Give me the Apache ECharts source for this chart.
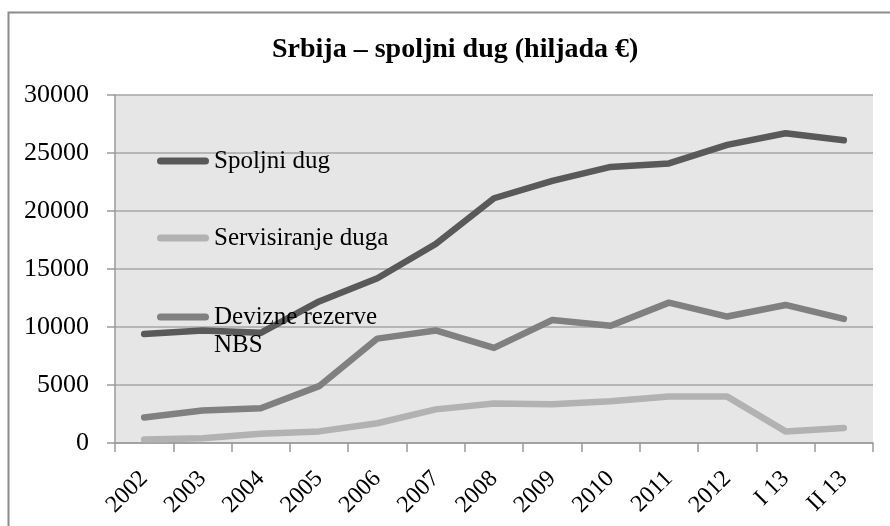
<!DOCTYPE html>
<html>
<head>
<meta charset="utf-8">
<script src="https://cdn.jsdelivr.net/npm/echarts@6/dist/echarts.min.js"></script>
<style>html,body{margin:0;padding:0;background:#fff;}#c{width:890px;height:526px;}</style>
</head>
<body>
<div id="c"></div>
<script>
const categories = ['2002','2003','2004','2005','2006','2007','2008','2009','2010','2011','2012','I 13','II 13'];
const spoljniDug = [9400, 9700, 9500, 12200, 14200, 17150, 21100, 22600, 23800, 24100, 25700, 26700, 26100];
const servisiranjeDuga = [300, 400, 800, 1000, 1700, 2900, 3400, 3350, 3600, 4000, 4000, 1000, 1300];
const deviznaRezerve = [2200, 2800, 3000, 4900, 9000, 9700, 8200, 10600, 10100, 12100, 10900, 11900, 10700];
const yTicks = [0, 5000, 10000, 15000, 20000, 25000, 30000];

const FONT = '"Liberation Serif", "DejaVu Serif", serif';
const capsule = 'path://M3.5,0 H48.5 A3.5,3.5 0 0 1 48.5,7 H3.5 A3.5,3.5 0 0 1 3.5,0 Z';

function legendFor(name, top, color, extra) {
  return Object.assign({
    data: [{ name: name, icon: capsule, itemStyle: { color: color } }],
    left: 157, top: top, orient: 'vertical', padding: 0,
    itemWidth: 52, itemHeight: 7, selectedMode: false,
    textStyle: { fontFamily: FONT, fontSize: 25, color: '#000', lineHeight: 28 }
  }, extra || {});
}

const chart = echarts.init(document.getElementById('c'));
chart.setOption({
  animation: false,
  backgroundColor: '#fff',
  title: {
    text: 'Srbija – spoljni dug (hiljada €)',
    left: 267, top: 31,
    textStyle: { fontFamily: FONT, fontSize: 28, fontWeight: 'bold', color: '#000' }
  },
  graphic: [{
    type: 'rect', left: 6, top: 10, z: -1, silent: true,
    shape: { width: 900, height: 540 },
    style: { fill: 'none', stroke: '#8c8c8c', lineWidth: 2 }
  }],
  legend: [
    legendFor('Spoljni dug', 147, '#595959'),
    legendFor('Servisiranje duga', 224, '#b2b2b2'),
    legendFor('Devizne rezerve NBS', 275, '#808080', {
      formatter: function () { return ' \nDevizne rezerve\nNBS'; }
    })
  ],
  grid: { left: 115, right: 17, top: 95, bottom: 83, show: true, backgroundColor: '#e6e6e6', borderWidth: 0, outerBoundsMode: 'none' },
  xAxis: {
    type: 'category', data: categories, boundaryGap: true,
    axisLine: { lineStyle: { color: '#9a9a9a', width: 1.5 } },
    axisTick: { show: true, length: 9, alignWithLabel: false, lineStyle: { color: '#9a9a9a', width: 1.5 } },
    axisLabel: { rotate: 45, margin: 32, fontFamily: FONT, fontSize: 24, color: '#000', interval: 0 }
  },
  yAxis: {
    type: 'value', min: yTicks[0], max: yTicks[yTicks.length - 1], interval: 5000,
    axisLine: { show: true, lineStyle: { color: '#9a9a9a', width: 1.5 } },
    axisTick: { show: true, length: 8, lineStyle: { color: '#9a9a9a', width: 1.5 } },
    axisLabel: { margin: 26, fontFamily: FONT, fontSize: 26, color: '#000', formatter: function (v) { return String(v); } },
    splitLine: { lineStyle: { color: '#a6a6a6', width: 1.5 } }
  },
  series: [
    { name: 'Spoljni dug', type: 'line', data: spoljniDug, showSymbol: false, symbol: 'none',
      lineStyle: { color: '#595959', width: 6.5, cap: 'round', join: 'round' }, itemStyle: { color: '#595959' }, z: 3 },
    { name: 'Servisiranje duga', type: 'line', data: servisiranjeDuga, showSymbol: false, symbol: 'none',
      lineStyle: { color: '#b2b2b2', width: 6.5, cap: 'round', join: 'round' }, itemStyle: { color: '#b2b2b2' }, z: 2 },
    { name: 'Devizne rezerve NBS', type: 'line', data: deviznaRezerve, showSymbol: false, symbol: 'none',
      lineStyle: { color: '#808080', width: 6.5, cap: 'round', join: 'round' }, itemStyle: { color: '#808080' }, z: 2 }
  ]
});
</script>
</body>
</html>
